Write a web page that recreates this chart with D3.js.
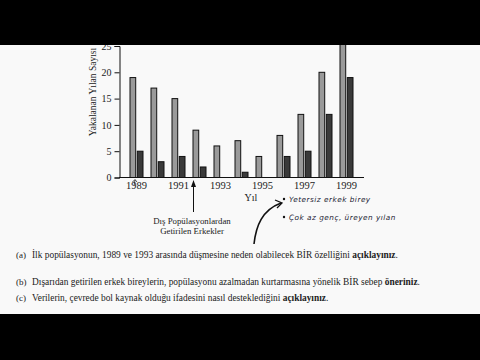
<!DOCTYPE html>
<html><head><meta charset="utf-8">
<script src="https://cdn.jsdelivr.net/npm/d3@7"></script>
<style>html,body{margin:0;padding:0;background:#000;}svg{display:block;}</style>
</head><body>
<script>
const years = [1989,1990,1991,1992,1993,1994,1995,1996,1997,1998,1999];
const initialPop = [19,17,15,9,6,7,4,8,12,20,27];
const introduced = [5,3,4,2,0,1,0,4,5,12,19];
const yTicks = [0,5,10,15,20,25];
const xTickYears = [1989,1991,1993,1995,1997,1999];
const questions = [
  {label:"(a)", text:"İlk popülasyonun, 1989 ve 1993 arasında düşmesine neden olabilecek BİR özelliğini ", bold:"açıklayınız", end:"."},
  {label:"(b)", text:"Dışarıdan getirilen erkek bireylerin, popülasyonu azalmadan kurtarmasına yönelik BİR sebep ", bold:"öneriniz", end:"."},
  {label:"(c)", text:"Verilerin, çevrede bol kaynak olduğu ifadesini nasıl desteklediğini ", bold:"açıklayınız", end:"."}
];
const notes = ["Yetersiz erkek birey","Çok az genç, üreyen yılan"];

const W=480,H=360;
const svg=d3.select("body").append("svg").attr("width",W).attr("height",H);
svg.append("rect").attr("x",0).attr("y",0).attr("width",W).attr("height",H).attr("fill","#f9f9f9");

const serif="Liberation Serif";
const x=d3.scaleBand().domain(years).range([126,357]).paddingInner(1/3).paddingOuter(1/6);
const xi=d3.scaleBand().domain(["a","b"]).range([0,x.bandwidth()]).paddingInner(0.08);
const y=d3.scaleLinear().domain([0,25]).range([177.5,46]);

const g=svg.append("g");
const rows=years.map((yr,i)=>({yr,vals:[{k:"a",v:initialPop[i]},{k:"b",v:introduced[i]}]}));
const grp=g.selectAll("g.grp").data(rows).join("g").attr("transform",d=>`translate(${x(d.yr)},0)`);
grp.selectAll("rect").data(d=>d.vals.filter(e=>e.v>0)).join("rect")
  .attr("x",d=>xi(d.k)+0.5).attr("width",xi.bandwidth()-1)
  .attr("y",d=>y(d.v)).attr("height",d=>y(0)-y(d.v))
  .attr("fill",d=>d.k==="a"?"#9a9a9a":"#3a3a3a")
  .attr("stroke","#111").attr("stroke-width",1);

// y axis
const ya=g.append("g").attr("transform","translate(119.5,0)")
  .call(d3.axisLeft(y).tickValues(yTicks).tickSize(5).tickPadding(3));
ya.select(".domain").attr("stroke","#111");
ya.selectAll("line").attr("stroke","#111");
ya.selectAll("text").attr("font-family",serif).attr("font-size",10).attr("fill","#222");

// x axis line
g.append("line").attr("x1",119).attr("x2",364).attr("y1",177.5).attr("y2",177.5).attr("stroke","#111");
const xa=g.append("g").attr("transform","translate(0,177.5)")
  .call(d3.axisBottom(x).tickValues(xTickYears).tickSize(0).tickPadding(4));
xa.select(".domain").remove();
xa.selectAll("text").attr("font-family",serif).attr("font-size",10.5).attr("fill","#222");

// axis titles
svg.append("text").attr("x",251).attr("y",201).attr("text-anchor","middle")
  .attr("font-family",serif).attr("font-size",10).attr("fill","#222").text("Yıl");
svg.append("text").attr("transform","translate(96,92) rotate(-90)").attr("text-anchor","middle")
  .attr("font-family",serif).attr("font-size",9.5).attr("fill","#222").text("Yakalanan Yılan Sayısı");

// annotation arrow
const ax=x(1992)+x.bandwidth()/2-6;
svg.append("line").attr("x1",ax).attr("x2",ax).attr("y1",186).attr("y2",212).attr("stroke","#111").attr("stroke-width",1);
svg.append("path").attr("d",`M${ax-2.5},187 L${ax},180 L${ax+2.5},187 Z`).attr("fill","#111");
svg.append("text").attr("x",192).attr("y",224).attr("text-anchor","middle")
  .attr("font-family",serif).attr("font-size",8.8).attr("fill","#222").text("Dış Popülasyonlardan");
svg.append("text").attr("x",192).attr("y",233.5).attr("text-anchor","middle")
  .attr("font-family",serif).attr("font-size",8.8).attr("fill","#222").text("Getirilen Erkekler");

// small pen mark near 1989
svg.append("path").attr("d","M134,186 L135,180 M132.5,182 L135,179.5 L137,182").attr("stroke","#222").attr("fill","none").attr("stroke-width",0.8);

// handwritten notes
svg.append("path").attr("d","M254,244 C256,226 262,210 281,203").attr("stroke","#111").attr("fill","none").attr("stroke-width",1.6);
svg.append("path").attr("d","M275,200 L282,203 L277,208").attr("stroke","#111").attr("fill","none").attr("stroke-width",1.3);
notes.forEach((n,i)=>{
  svg.append("circle").attr("cx",284).attr("cy",199+i*18).attr("r",1.2).attr("fill","#111");
  svg.append("text").attr("x",289).attr("y",202+i*18).attr("font-family","DejaVu Sans")
    .attr("font-size",7.3).attr("font-style","italic").attr("letter-spacing",0.5).attr("fill","#1b1b33").text(n);
});

// questions
const qy=[258,285,301];
questions.forEach((q,i)=>{
  svg.append("text").attr("x",16).attr("y",qy[i]).attr("font-family",serif).attr("font-size",9).attr("fill","#222").text(q.label);
  const t=svg.append("text").attr("x",32).attr("y",qy[i]).attr("font-family",serif).attr("font-size",9.4).attr("fill","#222");
  t.append("tspan").text(q.text);
  t.append("tspan").attr("font-weight","bold").text(q.bold);
  t.append("tspan").text(q.end);
});

// black bands
svg.append("rect").attr("x",0).attr("y",0).attr("width",W).attr("height",45).attr("fill","#000");
svg.append("rect").attr("x",0).attr("y",314).attr("width",W).attr("height",46).attr("fill","#000");
</script>
</body></html>
